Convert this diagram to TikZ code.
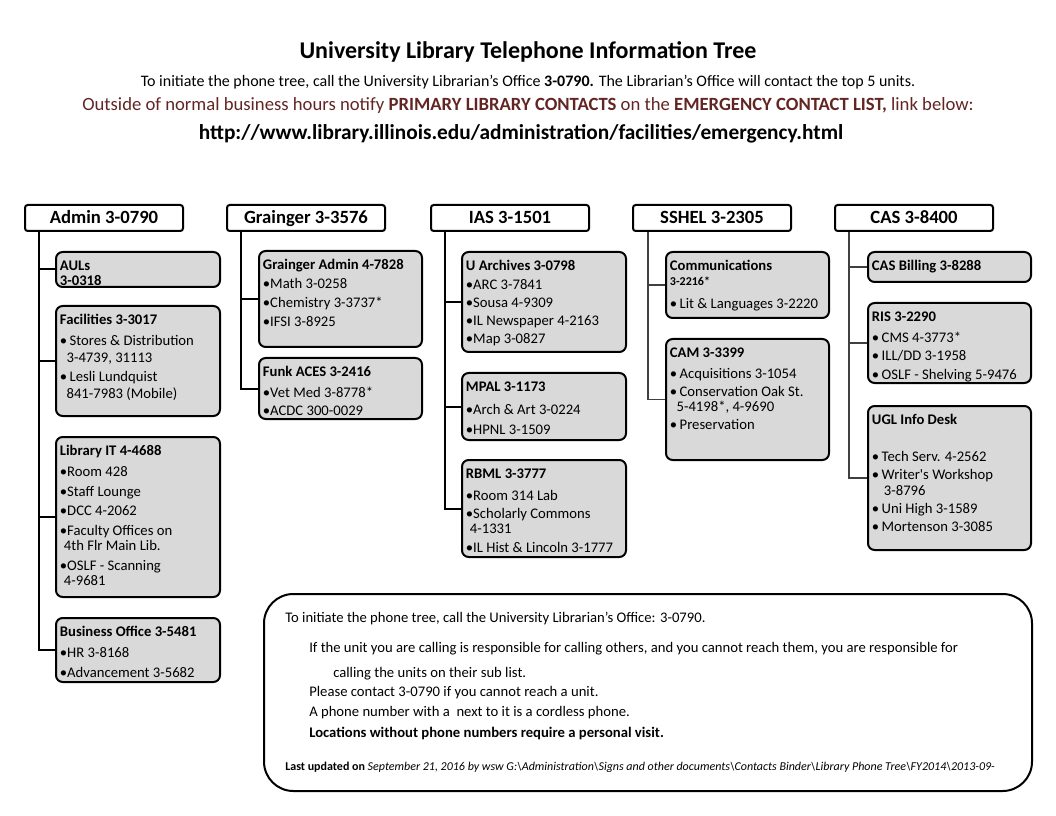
\documentclass[tikz,border=0pt]{standalone}
\usepackage{fontspec}
\setmainfont{Carlito}
\definecolor{maroon}{RGB}{99,37,35}
\definecolor{boxgrey}{RGB}{217,217,217}
\tikzstyle{topbox}=[draw, line width=1.5pt, rounded corners=2pt, fill=white, minimum width=118.5pt, minimum height=19.5pt, inner sep=0pt, text height=11pt, text depth=2pt, font=\fontsize{14}{16}\selectfont\bfseries]
\tikzstyle{subbox}=[draw, line width=1.5pt, rounded corners=5pt, fill=boxgrey, anchor=north west, inner sep=0pt]
\tikzstyle{subtext}=[anchor=north west, align=left, inner sep=0pt, font=\fontsize{11}{14.6}\selectfont]
\tikzstyle{link}=[line width=1.5pt]
\tikzstyle{thinlink}=[line width=0.8pt, black!75]
\tikzstyle{note}=[anchor=base west, inner sep=0pt, font=\fontsize{11}{13}\selectfont]
\newcommand{\branch}[6]{%
  \node[subbox, minimum width=#4*0.75pt, minimum height=#5*0.75pt] (#1) at (#2,#3) {};
  \node[subtext] (#1-t) at ([xshift=3.5pt,yshift=-7pt]#1.north west) {#6};}

\begin{document}
\begin{tikzpicture}[x=0.75pt, y=-0.75pt]
\useasboundingbox (0,0) rectangle (1056,816);

% heading
\node[anchor=base, font=\fontsize{18}{21}\selectfont\bfseries] (title) at (528,59) {University Library Telephone Information Tree};
\node[anchor=base, font=\fontsize{12}{14}\selectfont] (intro) at (528,87) {To initiate the phone tree, call the University Librarian’s Office \textbf{3-0790.} The Librarian’s Office will contact the top 5 units.};
\node[anchor=base, text=maroon, font=\fontsize{14}{16}\selectfont] (outside) at (528,111) {Outside of normal business hours notify \textbf{PRIMARY LIBRARY CONTACTS} on the \textbf{EMERGENCY CONTACT LIST,} link below:};
\node[anchor=base, font=\fontsize{16}{19}\selectfont\bfseries] (url) at (521,140) {http://www.library.illinois.edu/administration/facilities/emergency.html};

% top units
\node[topbox] (admin) at (104,218) {Admin 3-0790};
\node[topbox] (grainger) at (306,218) {Grainger 3-3576};
\node[topbox] (ias) at (510,218) {IAS 3-1501};
\node[topbox] (sshel) at (712,218) {SSHEL 3-2305};
\node[topbox] (cas) at (914,218) {CAS 3-8400};

% Admin
\branch{auls}{55}{251}{164}{35}{\textbf{AULs}\\[-3pt] \textbf{3-0318}}
\branch{facil}{55}{305}{164}{110}{\textbf{Facilities 3-3017}\\[1pt] •\,Stores \& Distribution\\[-2pt] \hspace*{5pt}3-4739, 31113\\ •\,Lesli Lundquist\\[-2pt] \hspace*{5pt}841-7983 (Mobile)}
\branch{libit}{55}{436}{164}{160}{\textbf{Library IT 4-4688}\\[1pt] •Room 428\\ •Staff Lounge\\ •DCC 4-2062\\ •Faculty Offices on\\[-3pt] \hspace*{3pt}4th Flr Main Lib.\\ •OSLF - Scanning\\[-3pt] \hspace*{3pt}4-9681}
\branch{busoff}{55}{617}{164}{64}{\textbf{Business Office 3-5481}\\[1pt] •HR 3-8168\\ •Advancement 3-5682}

% Grainger
\branch{gadmin}{258}{250}{163}{96}{\textbf{Grainger Admin 4-7828}\\[-1pt] •Math 3-0258\\ •Chemistry 3-3737*\\ •IFSI 3-8925}
\branch{funk}{258}{357}{163}{61}{\textbf{Funk ACES 3-2416}\\[1pt] •Vet Med 3-8778*\\[-1pt] •ACDC 300-0029}

% IAS
\branch{arch}{461}{251}{164}{100}{\textbf{U Archives 3-0798}\\[-1pt] •ARC 3-7841\\[-1pt] •Sousa 4-9309\\[-1pt] •IL Newspaper 4-2163\\[-1pt] •Map 3-0827}
\branch{mpal}{461}{372}{164}{67}{\textbf{MPAL 3-1173}\\[3pt] •Arch \& Art 3-0224\\ •HPNL 3-1509}
\branch{rbml}{461}{459}{164}{97}{\textbf{RBML 3-3777}\\[2pt] •Room 314 Lab\\[-1pt] •Scholarly Commons\\[-3pt] \hspace*{3pt}4-1331\\[-1pt] •IL Hist \& Lincoln 3-1777}

% SSHEL
\branch{comm}{665}{251}{163}{66}{\textbf{Communications}\\[-4pt] {\fontsize{9}{10}\selectfont\textbf{3-2216*}}\\[3pt] •\,Lit \& Languages 3-2220}
\branch{cam}{665}{338}{163}{121}{\textbf{CAM 3-3399}\\[1pt] •\,Acquisitions 3-1054\\[-1pt] •\,Conservation Oak St.\\[-3pt] \hspace*{5pt}5-4198*, 4-9690\\[-1pt] •\,Preservation}

% CAS
\branch{casbill}{867}{251}{163}{30}{\textbf{CAS Billing 3-8288}}
\branch{ris}{867}{302}{163}{80}{\textbf{RIS 3-2290}\\[1pt] •\,CMS 4-3773*\\[-1pt] •\,ILL/DD 3-1958\\ •\,OSLF - Shelving 5-9476}
\branch{ugl}{867}{405}{163}{144}{\textbf{UGL Info Desk}\\[13pt] •\,Tech Serv. 4-2562\\[-1pt] •\,Writer\textquotesingle s Workshop\\[-3pt] \hspace*{9pt}3-8796\\[-1pt] •\,Uni High 3-1589\\[-1pt] •\,Mortenson 3-3085}

% tree lines
\foreach \sub in {auls,facil,libit,busoff}
  \draw[link] ([xshift=11.25pt]admin.south west) |- (\sub.west);
\foreach \sub in {gadmin,funk}
  \draw[link] ([xshift=11.25pt]grainger.south west) |- (\sub.west);
\foreach \sub in {arch,mpal,rbml}
  \draw[link] ([xshift=11.25pt]ias.south west) |- (\sub.west);
\foreach \sub in {comm,cam}
  \draw[thinlink] ([xshift=12pt]sshel.south west) |- (\sub.west);
\foreach \sub in {casbill,ris,ugl}
  \draw[thinlink] ([xshift=11.25pt]cas.south west) |- (\sub.west);

% notes
\node[draw, line width=1.5pt, rounded corners=22pt, anchor=north west, inner sep=0pt,
  minimum width=768*0.75pt, minimum height=197*0.75pt] (notes) at (263,593) {};
\node[note] (n1) at (285,622) {To initiate the phone tree, call the University Librarian’s Office: 3-0790.};
\node[note] (n2) at (309,652) {If the unit you are calling is responsible for calling others, and you cannot reach them, you are responsible for};
\node[note] (n3) at (333,677) {calling the units on their sub list.};
\node[note] (n4) at (309,696) {Please contact 3-0790 if you cannot reach a unit.};
\node[note] (n5) at (309,716) {A phone number with a\ \ next to it is a cordless phone.};
\node[note, font=\fontsize{11}{13}\selectfont\bfseries] (n6) at (309,737) {Locations without phone numbers require a personal visit.};
\node[note, font=\fontsize{9}{11}\selectfont] (n7) at (285,770) {\textbf{Last updated on} \textit{September 21, 2016 by wsw G:\textbackslash Administration\textbackslash Signs and other documents\textbackslash Contacts Binder\textbackslash Library Phone Tree\textbackslash FY2014\textbackslash 2013-09-}};
\end{tikzpicture}
\end{document}
